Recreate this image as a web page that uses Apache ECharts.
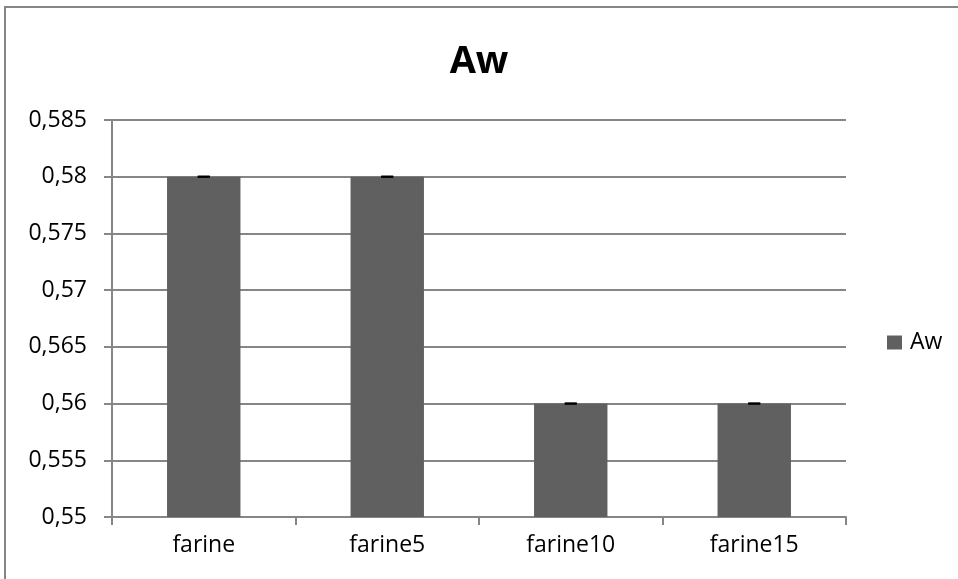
<!DOCTYPE html>
<html>
<head>
	<meta charset="utf-8">
	<title>Aw</title>
	<style>
		html, body { margin: 0; padding: 0; background: #fff; }
	</style>
</head>
<body>
<script type="text/javascript" src="https://cdn.jsdelivr.net/npm/echarts@6/dist/echarts.min.js"></script>
<div id="container" style="width: 958px;height: 579px;"></div>
<script type="text/javascript">
    // data
    var categories = ['farine', 'farine5', 'farine10', 'farine15'];
    var awValues = [0.58, 0.58, 0.56, 0.56];
    var awErrors = [0, 0, 0, 0];

    var myChart = echarts.init(document.getElementById('container'));
    var gray = '#868686';
    var font = 'Open Sans';

    function fmt(v) {
        return String(+v.toFixed(3)).replace('.', ',');
    }

    var option = {
        animation: false,
        backgroundColor: '#fff',
        textStyle: { fontFamily: font },
        title: {
            text: 'Aw',
            left: 'center',
            top: 38,
            textStyle: { fontSize: 38, fontWeight: 'bold', color: '#000', fontFamily: font }
        },
        graphic: [{
            type: 'rect',
            shape: { x: 5, y: 7, width: 1000, height: 600 },
            style: { fill: 'none', stroke: gray, lineWidth: 2 },
            silent: true
        }],
        legend: {
            left: 882,
            top: 326,
            icon: 'rect',
            itemWidth: 15,
            itemHeight: 14,
            itemGap: 8,
            data: ['Aw'],
            textStyle: { fontSize: 23, color: '#000', fontFamily: font, padding: [0, 0, 0, 3] }
        },
        grid: { left: 112, right: 112, top: 120, bottom: 62 },
        xAxis: {
            type: 'category',
            data: categories,
            axisLine: { lineStyle: { color: gray, width: 2 } },
            axisTick: { show: true, length: 8, lineStyle: { color: gray, width: 2 } },
            axisLabel: { fontSize: 23, color: '#000', margin: 17, fontFamily: font }
        },
        yAxis: {
            type: 'value',
            min: 0.55,
            max: 0.585,
            interval: 0.005,
            axisLine: { show: true, lineStyle: { color: gray, width: 2 } },
            axisTick: { show: true, length: 8, lineStyle: { color: gray, width: 2 } },
            splitLine: { lineStyle: { color: gray, width: 2 } },
            axisLabel: { fontSize: 23, color: '#000', margin: 25, formatter: fmt, fontFamily: font }
        },
        series: [{
            name: 'Aw',
            type: 'bar',
            data: awValues,
            barWidth: '40%',
            itemStyle: { color: '#606060' }
        }, {
            name: 'err',
            type: 'custom',
            data: awValues.map(function (v, i) { return [i, v, awErrors[i]]; }),
            z: 10,
            renderItem: function (params, api) {
                var i = api.value(0), v = api.value(1), e = api.value(2);
                var top = api.coord([i, v + e]);
                var bot = api.coord([i, v - e]);
                return {
                    type: 'group',
                    children: [
                        { type: 'line', shape: { x1: top[0] - 6, y1: top[1], x2: top[0] + 6, y2: top[1] }, style: { stroke: '#000', lineWidth: 2 } },
                        { type: 'line', shape: { x1: top[0], y1: top[1], x2: bot[0], y2: bot[1] }, style: { stroke: '#000', lineWidth: 2 } },
                        { type: 'line', shape: { x1: bot[0] - 6, y1: bot[1], x2: bot[0] + 6, y2: bot[1] }, style: { stroke: '#000', lineWidth: 2 } }
                    ]
                };
            }
        }]
    };
    myChart.setOption(option);
    window.addEventListener('resize', myChart.resize);
</script>
</body>
</html>
